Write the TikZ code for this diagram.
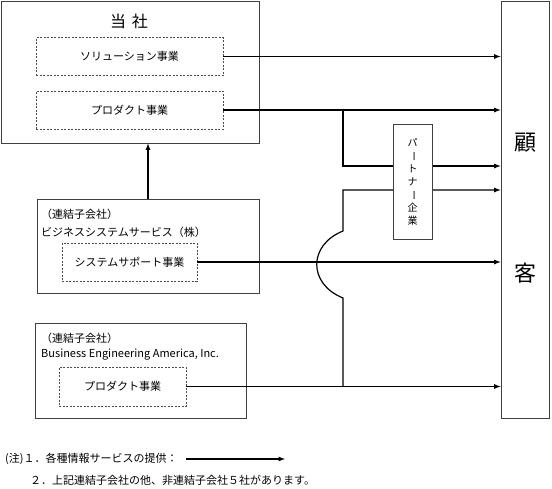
\documentclass[tikz,border=0pt]{standalone}
\usepackage{fontspec}
\setmainfont{Noto Sans CJK JP}
\begin{document}
\begin{tikzpicture}[x=1pt, y=-1pt, font=\fontsize{11}{13}\selectfont]
		\tikzset{>=latex}
		\tikzset{firm/.style={draw=black!75, line width=0.8pt, inner sep=0pt},
			biz/.style={draw=black!70, dash pattern=on 2pt off 1.5pt, line width=0.6pt, inner sep=0pt, minimum height=38pt},
			flow/.style={line width=1.2pt},
			lbl/.style={anchor=west, inner sep=0pt}}
		\useasboundingbox (0,0) rectangle (552,488);
		\node[firm, minimum width=258pt, minimum height=142pt] (tosha) at (130,72) {};
		\node[font=\fontsize{16}{18}\selectfont] (toshat) at (129,21) {当\hspace{0.35em}社};
		\node[biz, minimum width=187pt] (sol) at (129.5,56.5) {ソリューション事業};
		\node[biz, minimum width=187pt] (prod) at (129.5,110) {プロダクト事業};
		\node[firm, minimum width=222pt, minimum height=94pt] (bss) at (148,246) {};
		\node[lbl] (bssa) at (41,214) {（連結子会社）};
		\node[lbl] (bssb) at (41,232) {ビジネスシステムサービス（株）};
		\node[biz, minimum width=135pt] (sup) at (129.5,262) {システムサポート事業};
		\node[firm, minimum width=211pt, minimum height=95pt] (bea) at (140.5,370.5) {};
		\node[lbl] (beaa) at (41,338) {（連結子会社）};
		\node[lbl] (beab) at (41,355) {Business Engineering America, Inc.};
		\node[biz, minimum width=127pt, minimum height=39pt] (pbea) at (122.5,386.5) {プロダクト事業};
		\node[firm, minimum width=48pt, minimum height=417pt] (cust) at (525,209.5) {};
		\node[font=\fontsize{22}{24}\selectfont] (custa) at (525,143) {顧};
		\node[font=\fontsize{22}{24}\selectfont] (custb) at (525,273) {客};
		\coordinate (jA) at (343,166);
		\coordinate (jB) at (343,190);
		\coordinate (hopT) at (343,231);
		\coordinate (hopB) at (343,298);
		\draw[flow,->] (bss.north) -- (bss.north |- tosha.south);
		\draw[flow,->] (sol.east) -- (sol.east -| cust.west);
		\draw[flow,->] (prod.east) -- (prod.east -| cust.west);
		\draw[flow,->] (prod.east -| jA) -- (jA) -- (jA -| cust.west);
		\draw[flow,->] (sup.east) -- (sup.east -| cust.west);
		\draw[flow,->] (pbea.east) -- (pbea.east -| cust.west);
		\draw[flow,->] (pbea.east -| hopB) -- (hopB) .. controls (308,284) and (308,245) .. (hopT) -- (jB) -- (jB -| cust.west);
		\node[firm, fill=white, minimum width=39pt, minimum height=115pt, align=center, font=\fontsize{10}{13}\selectfont] (ptnr) at (412.5,181.5) {パ\\\rotatebox[origin=c]{-90}{ー}\\ト\\ナ\\\rotatebox[origin=c]{-90}{ー}\\企\\業};
		\node[lbl] (note1) at (5,459) {(注)１．各種情報サービスの提供：};
		\coordinate (legend) at (285,459);
		\draw[flow,->] ([xshift=8pt]note1.east) -- (legend);
		\node[lbl] (note2) at (30,480) {２．上記連結子会社の他、非連結子会社５社があります。};
	\end{tikzpicture}
\end{document}
